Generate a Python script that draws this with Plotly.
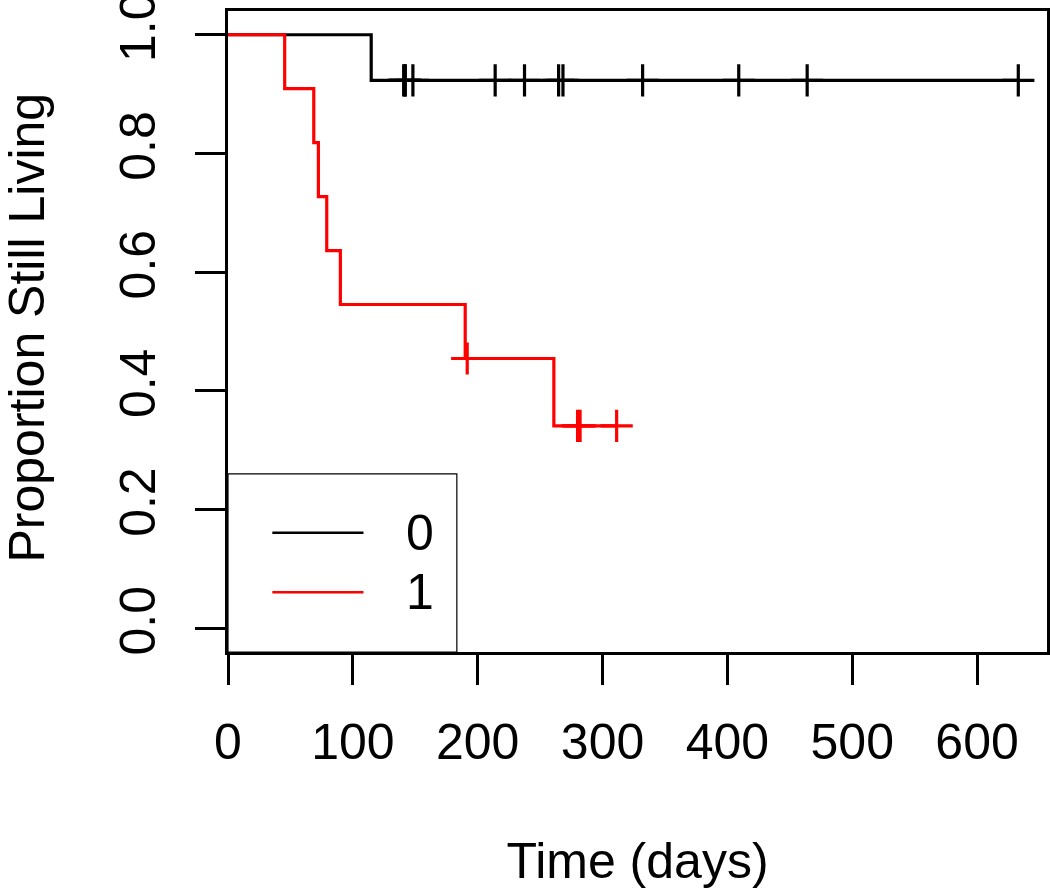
import plotly.graph_objects as go

# ---- data (Kaplan-Meier input) ----
group0_times = [114.7, 140.7, 141.9, 141.9, 148.1, 214.0, 237.5, 264.8, 268.3,
                332.1, 409.1, 463.9, 633.0]
group0_status = [1, 0, 0, 0, 0, 0, 0, 0, 0, 0, 0, 0, 0]

group1_times = [45.4, 68.7, 72.4, 79.1, 90.0, 190.0, 191.6, 261.0, 280.0, 282.0, 311.3]
group1_status = [1, 1, 1, 1, 1, 1, 0, 1, 0, 0, 0]

group_labels = ["0", "1"]
x_ticks = [0, 100, 200, 300, 400, 500, 600]
y_ticks = [0.0, 0.2, 0.4, 0.6, 0.8, 1.0]
y_tick_text = ["0.0", "0.2", "0.4", "0.6", "0.8", "1.0"]


def kaplan_meier(times, status):
    pairs = sorted(zip(times, status))
    n_at_risk = len(pairs)
    surv = 1.0
    step_x, step_y = [0.0], [1.0]
    cens_x, cens_y = [], []
    i = 0
    while i < len(pairs):
        t = pairs[i][0]
        same = [p for p in pairs if p[0] == t]
        d = sum(s for _, s in same)
        if d > 0:
            surv *= (1 - d / n_at_risk)
            step_x.append(t)
            step_y.append(surv)
        for _, s in same:
            if s == 0:
                cens_x.append(t)
                cens_y.append(surv)
        n_at_risk -= len(same)
        i += len(same)
    step_x.append(pairs[-1][0])
    step_y.append(surv)
    return step_x, step_y, cens_x, cens_y


FONT = "Liberation Sans, Arial, sans-serif"
colors = ["black", "red"]

fig = go.Figure()
for times, status, name, col in [(group0_times, group0_status, group_labels[0], colors[0]),
                                 (group1_times, group1_status, group_labels[1], colors[1])]:
    sx, sy, cx, cy = kaplan_meier(times, status)
    fig.add_trace(go.Scatter(x=sx, y=sy, mode="lines", line=dict(color=col, width=3.2, shape="hv"),
                             name=name, showlegend=False, hoverinfo="skip"))
    fig.add_trace(go.Scatter(x=cx, y=cy, mode="markers", name=name + " censored",
                             marker=dict(symbol="cross-thin", size=23,
                                         line=dict(color=col, width=3.2)),
                             showlegend=False))

x_min, x_max = 0, 656
y_min, y_max = -0.04, 1.04

# manual legend box (R style)
leg_x0, leg_x1 = 0, 183.3
leg_y0, leg_y1 = y_min, 0.26
fig.add_shape(type="rect", x0=leg_x0, x1=leg_x1, y0=leg_y0, y1=leg_y1,
              line=dict(color="black", width=1.2), fillcolor="white", layer="above")
leg_rows = [0.161, 0.0607]
for lab, col, yy in zip(group_labels, colors, leg_rows):
    fig.add_shape(type="line", x0=35.5, x1=108.5, y0=yy, y1=yy,
                  line=dict(color=col, width=2.5), layer="above")
    fig.add_annotation(x=153.5, y=yy, text=lab, showarrow=False, xanchor="center",
                       yanchor="middle", font=dict(family=FONT, size=50, color="black"))

# y-axis title placed like R's (outer margin)
fig.add_annotation(xref="paper", yref="paper", x=0, y=0.5, xshift=-202, yshift=4,
                   text="Proportion Still Living", textangle=-90, showarrow=False,
                   xanchor="center", yanchor="middle",
                   font=dict(family=FONT, size=50, color="black"))

fig.update_layout(
    width=1050, height=889,
    margin=dict(l=228, r=3, t=11, b=237),
    plot_bgcolor="white", paper_bgcolor="white",
    font=dict(family=FONT, size=50, color="black"),
    showlegend=False,
)
fig.update_xaxes(range=[x_min, x_max], tickvals=x_ticks, ticks="outside", ticklen=30,
                 tickwidth=2.5, tickcolor="black", showgrid=False, zeroline=False,
                 showline=True, linecolor="black", linewidth=3, mirror=True,
                 tickfont=dict(family=FONT, size=50), ticklabelstandoff=14,
                 ticklabeloverflow="allow",
                 title=dict(text="Time (days)", font=dict(family=FONT, size=50), standoff=75),
                 automargin=False)
fig.update_yaxes(range=[y_min, y_max], tickvals=y_ticks, ticktext=y_tick_text, ticks="outside",
                 ticklen=30, tickwidth=2.5, tickcolor="black", showgrid=False, zeroline=False,
                 showline=True, linecolor="black", linewidth=3, mirror=True, tickangle=-90,
                 tickfont=dict(family=FONT, size=50), ticklabelstandoff=20,
                 ticklabeloverflow="allow",
                 automargin=False)

fig.write_html("out.html", config={"displayModeBar": False},
               post_script="document.body.style.margin='0px';")
